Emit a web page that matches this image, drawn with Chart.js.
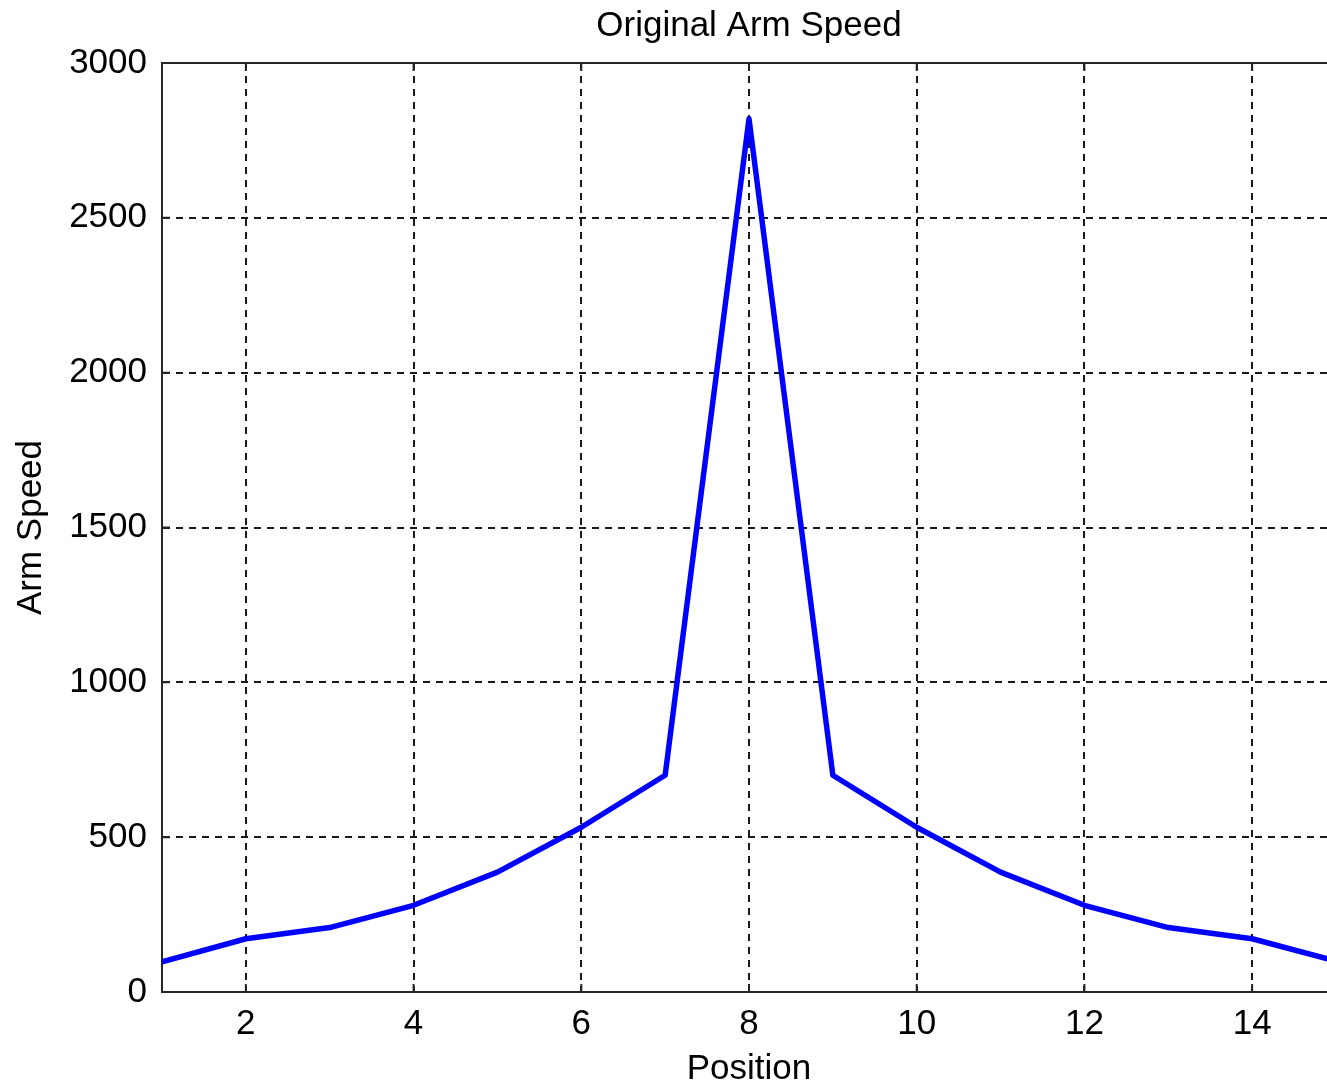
<!DOCTYPE html>
<html>
<head>
<meta charset="utf-8">
<script src="https://cdn.jsdelivr.net/npm/chart.js@4/dist/chart.umd.min.js"></script>
<style>
  html, body { margin: 0; padding: 0; background: #fff; overflow: hidden; }
  #wrap { width: 1498px; height: 1087px; position: relative; }
</style>
</head>
<body>
<div id="wrap"><canvas id="c"></canvas></div>
<script>
const positions = [1, 2, 3, 4, 5, 6, 7, 8, 9, 10, 11, 12, 13, 14, 15];
const armSpeed = [97, 172, 208, 280, 387, 532, 700, 2820, 700, 532, 387, 280, 208, 172, 100];
const xTickValues = [2, 4, 6, 8, 10, 12, 14];
const yTickValues = [0, 500, 1000, 1500, 2000, 2500, 3000];
const chartTitle = 'Original Arm Speed';
const xTitle = 'Position';
const yTitle = 'Arm Speed';

const FONT = "'Liberation Sans', Arial, sans-serif";
const AXIS = '#262626';

const boxPlugin = {
  id: 'box',
  afterDraw(chart) {
    const {ctx, chartArea: a, scales} = chart;
    ctx.save();
    ctx.strokeStyle = AXIS;
    ctx.lineWidth = 2;
    ctx.setLineDash([]);
    ctx.beginPath();
    ctx.moveTo(a.left, a.top);
    ctx.lineTo(a.right, a.top);
    xTickValues.forEach(v => {
      const px = scales.x.getPixelForValue(v);
      ctx.moveTo(px, a.bottom); ctx.lineTo(px, a.bottom - 8);
      ctx.moveTo(px, a.top); ctx.lineTo(px, a.top + 8);
    });
    yTickValues.forEach(v => {
      const py = scales.y.getPixelForValue(v);
      ctx.moveTo(a.left, py); ctx.lineTo(a.left + 8, py);
    });
    ctx.stroke();
    // title centred over the plot area
    ctx.fillStyle = '#000';
    ctx.font = '35px ' + FONT;
    ctx.textAlign = 'center';
    ctx.textBaseline = 'middle';
    ctx.fillText(chartTitle, (a.left + a.right) / 2, 26);
    ctx.restore();
  }
};

new Chart(document.getElementById('c'), {
  type: 'line',
  data: {
    datasets: [{
      data: positions.map((p, i) => ({x: p, y: armSpeed[i]})),
      borderColor: '#0000ff',
      borderWidth: 5.5,
      borderJoinStyle: 'round',
      pointRadius: 0,
      tension: 0,
      fill: false
    }]
  },
  options: {
    responsive: true,
    maintainAspectRatio: false,
    animation: false,
    events: [],
    layout: { padding: { left: 0, right: 162, top: 63, bottom: 0 } },
    plugins: {
      legend: { display: false },
      tooltip: { enabled: false },
      title: { display: false }
    },
    scales: {
      x: {
        type: 'linear',
        min: 1,
        max: 15,
        afterBuildTicks: s => { s.ticks = xTickValues.map(v => ({value: v})); },
        afterFit: s => { s.height = 95; },
        grid: { color: '#1a1a1a', lineWidth: 2, drawTicks: false },
        border: { display: true, color: AXIS, width: 2, dash: [7, 6] },
        ticks: { color: '#000', padding: 11, maxRotation: 0,
                 callback: v => String(v),
                 font: { family: FONT, size: 35 } },
        title: { display: true, text: xTitle, color: '#000',
                 font: { family: FONT, size: 35, lineHeight: 1 },
                 padding: { top: 0, bottom: 0 } }
      },
      y: {
        type: 'linear',
        min: 0,
        max: 3000,
        afterBuildTicks: s => { s.ticks = yTickValues.map(v => ({value: v})); },
        afterFit: s => { s.width = 162; },
        grid: { color: '#1a1a1a', lineWidth: 2, drawTicks: false },
        border: { display: true, color: AXIS, width: 2, dash: [7, 6] },
        ticks: { color: '#000', padding: 15,
                 callback: v => String(v),
                 font: { family: FONT, size: 35 } },
        title: { display: true, text: yTitle, color: '#000',
                 font: { family: FONT, size: 35, lineHeight: 1 },
                 padding: { top: 14, bottom: 0 } }
      }
    }
  },
  plugins: [boxPlugin]
});
</script>
</body>
</html>
